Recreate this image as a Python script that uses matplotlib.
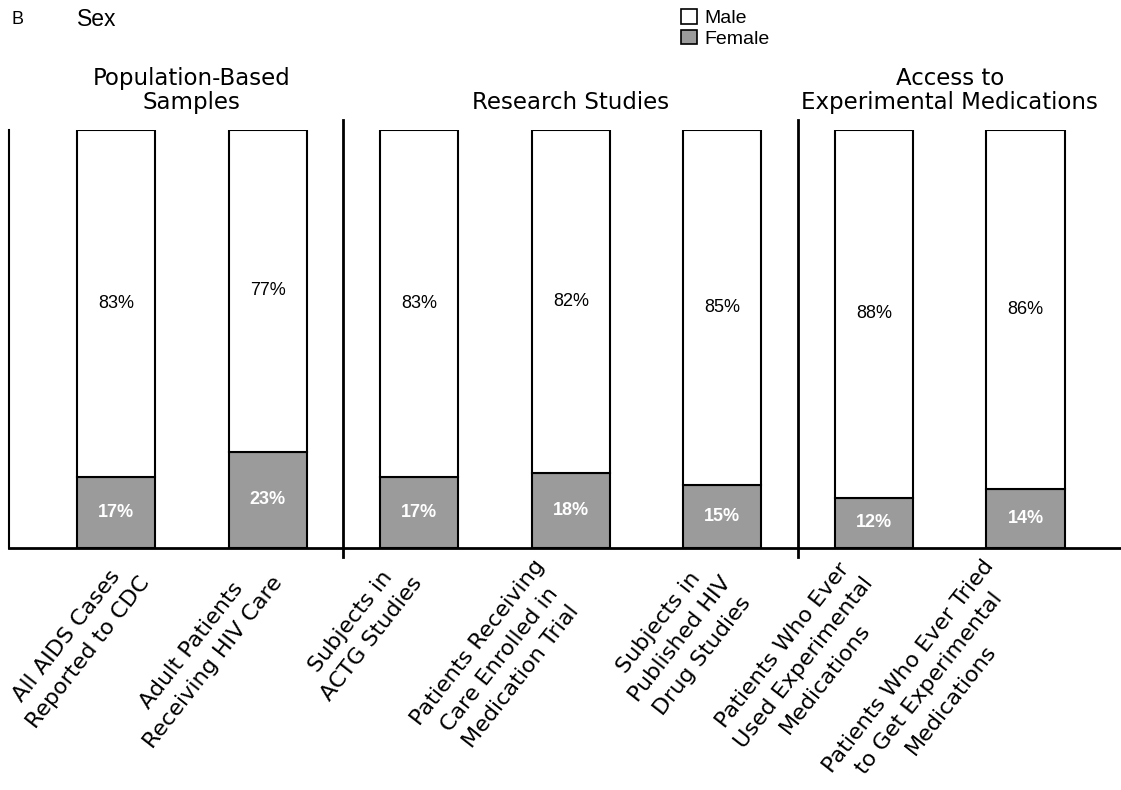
import numpy as np
import matplotlib.pyplot as plt
import matplotlib.transforms as mtransforms
from matplotlib.patches import Patch

plt.rcParams['font.family'] = ['DejaVu Sans']

labels = ['All AIDS Cases\nReported to CDC',
          'Adult Patients\nReceiving HIV Care',
          'Subjects in\nACTG Studies',
          'Patients Receiving\nCare Enrolled in\nMedication Trial',
          'Subjects in\nPublished HIV\nDrug Studies',
          'Patients Who Ever\nUsed Experimental\nMedications',
          'Patients Who Ever Tried\nto Get Experimental\nMedications']
female = [17, 23, 17, 18, 15, 12, 14]
male = [83, 77, 83, 82, 85, 88, 86]
groups = ['Population-Based\nSamples', 'Research Studies',
          'Access to\nExperimental Medications']
group_centers = [0.5, 3, 5.5]
separators = [1.5, 4.5]

# horizontal nudge of each rotated label (pixels), the original was laid out by hand
label_nudge = [0, -18, -30, -38, -24, -34, -44]

grey = '#9b9b9b'
arial = ['Liberation Sans', 'DejaVu Sans']

fig = plt.figure(figsize=(11.21, 7.90), dpi=100)
ax = fig.add_axes([9/1121, 1-548/790, 1-9/1121, (548-130)/790])

x = np.arange(len(labels))
w = 0.515
ax.bar(x, female, w, color=grey, edgecolor='black', linewidth=1.5)
ax.bar(x, male, w, bottom=female, color='white', edgecolor='black', linewidth=1.5)

for i in range(len(x)):
    ax.text(x[i], female[i]/2, '%d%%' % female[i], ha='center', va='center',
            color='white', fontsize=13, fontweight='bold', family=arial)
    ax.text(x[i], female[i] + male[i]/2, '%d%%' % male[i], ha='center', va='center',
            color='black', fontsize=13, family=arial)

for s in separators:
    ax.plot([s, s], [-2.2, 102.3], color='black', lw=2, clip_on=False)

for g, c in zip(groups, group_centers):
    ax.text(c, 105.0, g, ha='center', va='baseline', fontsize=16.5, linespacing=1.05)

ax.set_xlim(-0.706, 6.63)
ax.set_ylim(0, 100)
ax.spines['top'].set_visible(False)
ax.spines['right'].set_visible(False)
ax.spines['left'].set_linewidth(1.5)
ax.spines['bottom'].set_linewidth(2)
ax.set_yticks([])
ax.set_xticks(x)
ax.set_xticklabels(labels, rotation=52, ha='right', va='top', rotation_mode='anchor',
                   fontsize=16, multialignment='center', linespacing=1.45)
ax.tick_params(axis='x', length=0, pad=6)

for lab, dx in zip(ax.get_xticklabels(), label_nudge):
    shift = mtransforms.ScaledTranslation(dx/100., 0, fig.dpi_scale_trans)
    lab.set_transform(lab.get_transform() + shift)

fig.text(12/1121, 1-20/790, 'B', fontsize=13, va='center', ha='left', family=arial)
fig.text(77/1121, 1-20/790, 'Sex', fontsize=16.5, va='center', ha='left', family=arial)

handles = [Patch(facecolor='white', edgecolor='black', lw=1.2),
           Patch(facecolor=grey, edgecolor='black', lw=1.2)]
fig.legend(handles, ['Male', 'Female'], loc='upper left',
           bbox_to_anchor=(681/1121, 1-9/790), frameon=False,
           prop={'family': arial, 'size': 14},
           handlelength=0.8, handleheight=0.8, handletextpad=0.4,
           labelspacing=0.12, borderpad=0, borderaxespad=0)

fig.savefig('out.png', dpi=100)
